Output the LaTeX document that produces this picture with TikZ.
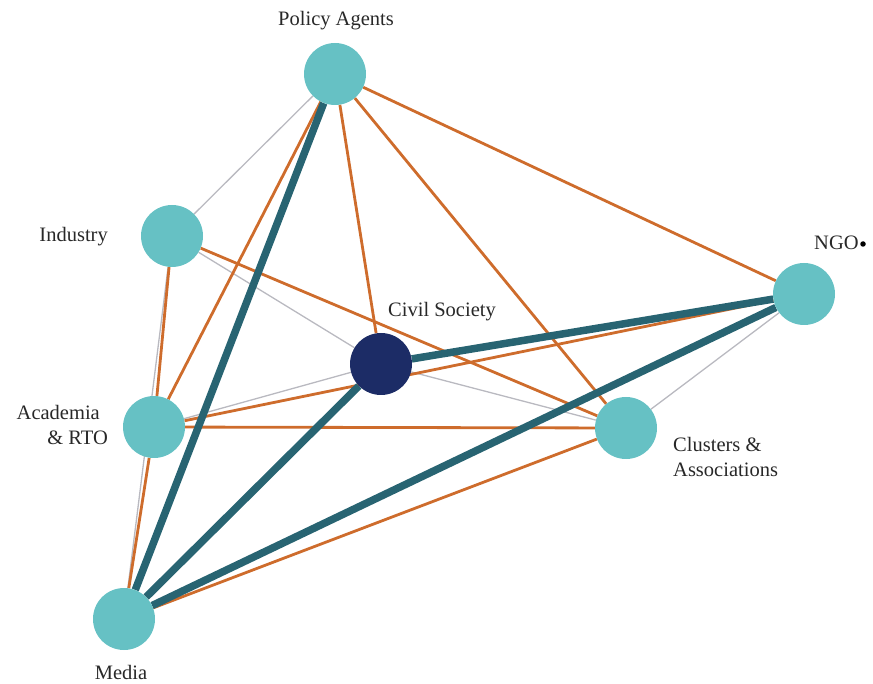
\documentclass[tikz,border=0pt]{standalone}
\usepackage{fontspec}
\setmainfont{Liberation Serif}
\usetikzlibrary{backgrounds}

\definecolor{nodecyan}{RGB}{102,193,196}
\definecolor{hubnavy}{RGB}{28,44,102}
\definecolor{tealedge}{RGB}{40,100,114}
\definecolor{orangeedge}{RGB}{206,108,44}
\definecolor{greyedge}{RGB}{185,185,192}
\definecolor{labelgrey}{RGB}{40,40,40}

\begin{document}
\begin{tikzpicture}[x=1pt,y=-1pt,
  actor/.style={circle,fill=nodecyan,minimum size=62pt,inner sep=0pt},
  hub/.style={actor,fill=hubnavy},
  lab/.style={font=\fontsize{20.5}{25}\selectfont,text=labelgrey,inner sep=0pt},
  strong/.style={draw=tealedge,line width=7.5pt},
  medium/.style={draw=orangeedge,line width=2.8pt},
  weak/.style={draw=greyedge,line width=1.3pt}]
\useasboundingbox (0,0) rectangle (873,684);

% actors
\node[actor] (pol) at (335,74) {};
\node[actor] (ind) at (172,236) {};
\node[actor] (ngo) at (804,294) {};
\node[hub]   (civ) at (381,364) {};
\node[actor] (aca) at (154,427) {};
\node[actor] (clu) at (626,428) {};
\node[actor] (med) at (124,619) {};

% labels
\node[lab] (lpol) at (336,21) {Policy Agents};
\node[lab,anchor=east] (lind) at (108,237) {Industry};
\node[lab,anchor=west] (lngo) at (814,243) {NGO};
\node[circle,fill=black,minimum size=5.5pt,inner sep=0pt] (ngodot) at (863,244) {};
\node[lab,anchor=west] (lciv) at (388,312) {Civil Society};
\node[lab,align=right,anchor=east] (laca) at (108,425) {Academia\hspace*{8pt}\\\& RTO};
\node[lab,align=left,anchor=west] (lclu) at (673,457) {Clusters \&\\Associations};
\node[lab] (lmed) at (121,672) {Media};

% ties, drawn beneath the actors
\begin{scope}[on background layer]
  % weak ties
  \draw[weak] (pol) -- (ind);
  \draw[weak] (ind) -- (civ);
  \draw[weak] (civ) -- (clu);
  \draw[weak] (aca) -- (civ);
  \draw[weak] (clu) -- (ngo);
  \draw[weak] (ind) -- (med);
  % medium ties
  \draw[medium] (pol) -- (aca);
  \draw[medium] (pol) -- (civ);
  \draw[medium] (pol) -- (clu);
  \draw[medium] (pol) -- (ngo);
  \draw[medium] (ind) -- (aca);
  \draw[medium] (ind) -- (clu);
  \draw[medium] (aca) -- (med);
  \draw[medium] (aca) -- (ngo);
  \draw[medium] (aca) -- (clu);
  \draw[medium] (med) -- (clu);
  % strong ties
  \draw[strong] (pol) -- (med);
  \draw[strong] (civ) -- (med);
  \draw[strong] (civ) -- (ngo);
  \draw[strong] (med) -- (ngo);
\end{scope}
\end{tikzpicture}
\end{document}
